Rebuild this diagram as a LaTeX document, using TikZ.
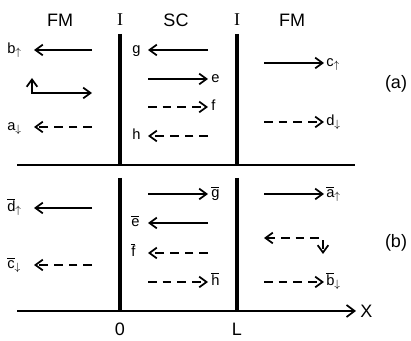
\documentclass[tikz,border=0pt]{standalone}
\usepackage{fontspec}
\setmainfont{Liberation Sans}
\newfontfamily\romanI{Liberation Serif}
\usetikzlibrary{positioning,arrows.meta}
\newcommand{\up}{$_{\uparrow}$}
\newcommand{\dn}{$_{\downarrow}$}
\newcommand{\ov}[1]{$\overline{\mbox{#1}}$}
\begin{document}
\begin{tikzpicture}[x=0.75pt,y=-0.75pt,>={Straight Barb[length=5.5pt,width=8pt,line width=1.3pt]},
	wall/.style={line width=2.4pt},
	rule/.style={line width=1.3pt},
	ray/.style={->,line width=1.1pt},
	dray/.style={ray,dash pattern=on 6.5pt off 4.5pt},
	lbl/.style={inner sep=0pt,anchor=base west,font=\fontsize{11}{12}\selectfont},
	ttl/.style={inner sep=0pt,font=\fontsize{13.5}{15}\selectfont}]
	\useasboundingbox (0,0) rectangle (411,341);
	% titles
	\node[ttl] (fml) at (60,20) {FM};
	\node[ttl] (il) at (120,20) {\romanI I};
	\node[ttl] (sc) at (176,20) {SC};
	\node[ttl] (ir) at (237,20) {\romanI I};
	\node[ttl] (fmr) at (292,20) {FM};
	\node[ttl] (pa) at (396,84) {(a)};
	\node[ttl] (pb) at (396,243) {(b)};
	% interfaces and axes
	\coordinate (w1a) at (120,34); \coordinate (w1b) at (120,165);
	\coordinate (w1c) at (120,178); \coordinate (w1d) at (120,311);
	\coordinate (w2a) at (237,34); \coordinate (w2b) at (237,165);
	\coordinate (w2c) at (237,178); \coordinate (w2d) at (237,311);
	\draw[wall] (w1a) -- (w1b) (w1c) -- (w1d);
	\draw[wall] (w2a) -- (w2b) (w2c) -- (w2d);
	\coordinate (m0) at (17,165); \coordinate (m1) at (355,165);
	\coordinate (x0) at (17,311); \coordinate (x1) at (356,311);
	\draw[rule] (m0) -- (m1);
	\draw[rule,->,>={Straight Barb[length=6pt,width=9pt,line width=1.3pt]}] (x0) -- (x1);
	\node[ttl,right=3pt of x1] (xl) {X};
	\node[ttl,below=9pt of w1d] (o) {0};
	\node[ttl,below=9pt of w2d] (l) {L};
	% (a)
	\node[lbl] (b) at (7,53.5) {b\up};
	\draw[ray] (92,50) -- (34,50);
	\draw[ray,<->] (32,78) |- (92,93);
	\node[lbl] (a) at (7,130.5) {a\dn};
	\draw[dray] (92,127) -- (34,127);
	\node[lbl] (g) at (132,53.5) {g};
	\draw[ray] (208,50) -- (148,50);
	\node[lbl] (e) at (211,82.5) {e};
	\draw[ray] (148,79) -- (208,79);
	\node[lbl] (f) at (211,110.5) {f};
	\draw[dray] (148,107) -- (208,107);
	\node[lbl] (h) at (132,139.5) {h};
	\draw[dray] (208,136) -- (148,136);
	\node[lbl] (c) at (326,66.5) {c\up};
	\draw[ray] (264,63) -- (324,63);
	\node[lbl] (d) at (326,125.5) {d\dn};
	\draw[dray] (264,122) -- (324,122);
	% (b)
	\node[lbl] (db) at (7,211.5) {\ov{d}\up};
	\draw[ray] (92,208) -- (34,208);
	\node[lbl] (cb) at (7,268.5) {\ov{c}\dn};
	\draw[dray] (92,265) -- (34,265);
	\node[lbl] (gb) at (211,197.5) {\ov{g}};
	\draw[ray] (148,194) -- (208,194);
	\node[lbl] (eb) at (131,226.5) {\ov{e}};
	\draw[ray] (208,223) -- (148,223);
	\node[lbl] (fb) at (131,256.5) {\ov{f}};
	\draw[dray] (208,253) -- (148,253);
	\node[lbl] (hb) at (211,285.5) {\ov{h}};
	\draw[dray] (148,282) -- (208,282);
	\node[lbl] (ab) at (326,197.5) {\ov{a}\up};
	\draw[ray] (264,194) -- (324,194);
	\draw[dray,<->] (264,238) -| (323,254);
	\node[lbl] (bb) at (326,285.5) {\ov{b}\dn};
	\draw[dray] (264,282) -- (324,282);
\end{tikzpicture}
\end{document}
